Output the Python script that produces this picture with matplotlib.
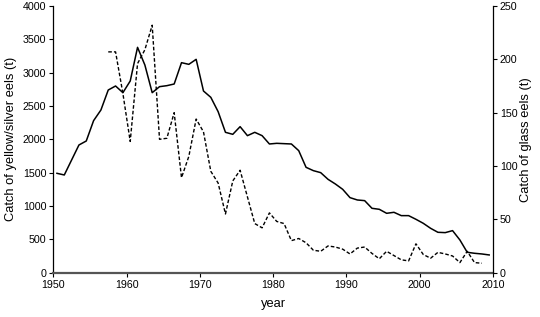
import numpy as np
import matplotlib
matplotlib.use("Agg")
import matplotlib.pyplot as plt

plt.rcParams['font.family'] = ['Liberation Sans', 'DejaVu Sans']

# Yellow/silver eel catch (t), 1950-2009
ys_years = list(range(1950, 2010))
ys_catch = [1490, 1465, 1690, 1915, 1975, 2280, 2440, 2740, 2800, 2700,
            2875, 3380, 3115, 2700, 2790, 2805, 2830, 3150, 3125, 3200,
            2725, 2630, 2415, 2105, 2075, 2190, 2055, 2105, 2055, 1930,
            1940, 1935, 1930, 1830, 1580, 1530, 1500, 1400, 1330, 1250,
            1125, 1090, 1080, 965, 950, 890, 905, 855, 855, 800,
            740, 665, 605, 600, 630, 490, 305, 290, 280, 265]

# Glass eel catch (t), 1957-2008
ge_years = list(range(1957, 2009))
ge_catch = [207, 207, 168, 123, 196, 209, 232, 125, 126, 150,
            89, 109, 144, 132, 95, 84, 55, 86, 96, 71,
            46, 42, 56, 48, 46, 30, 32, 28, 21, 20,
            25, 24, 22, 17.5, 23, 24, 18, 13, 20, 16,
            12, 11, 27, 17, 13.5, 19, 17.5, 15.6, 9.4, 20,
            9.4, 8.8]

x_ticks = [1950, 1960, 1970, 1980, 1990, 2000, 2010]
left_ticks = list(range(0, 4001, 500))
right_ticks = list(range(0, 251, 50))

fig = plt.figure(figsize=(5.4, 3.17), dpi=100)
ax = fig.add_axes([0.0987, 0.14, 0.814, 0.841])
ax2 = ax.twinx()

ax.plot(np.array(ys_years) + 0.5, ys_catch, color='black', lw=1.1)
ax2.plot(np.array(ge_years) + 0.5, ge_catch, color='black', lw=1.0,
         linestyle=(0, (2.6, 1.5)))

ax.set_xlim(1950, 2010)
ax.set_ylim(0, 4000)
ax2.set_ylim(0, 250)
ax.set_xticks(x_ticks)
ax.set_yticks(left_ticks)
ax2.set_yticks(right_ticks)

for a in (ax, ax2):
    a.spines['top'].set_visible(False)
    a.tick_params(labelsize=7.7, length=3, width=0.8, pad=2)
ax.spines['right'].set_visible(False)
ax2.spines['left'].set_visible(False)
ax2.spines['bottom'].set_visible(False)
ax.spines['bottom'].set_color('#555555')
ax.spines['bottom'].set_linewidth(1.6)
ax.spines['left'].set_linewidth(0.9)
ax2.spines['right'].set_linewidth(0.9)

ax.set_xlabel('year', fontsize=9.3, labelpad=6)
ax.set_ylabel('Catch of yellow/silver eels (t)', fontsize=9.3, labelpad=4)
ax2.set_ylabel('Catch of glass eels (t)', fontsize=9.3, labelpad=2)

fig.savefig('out.png', dpi=100)
